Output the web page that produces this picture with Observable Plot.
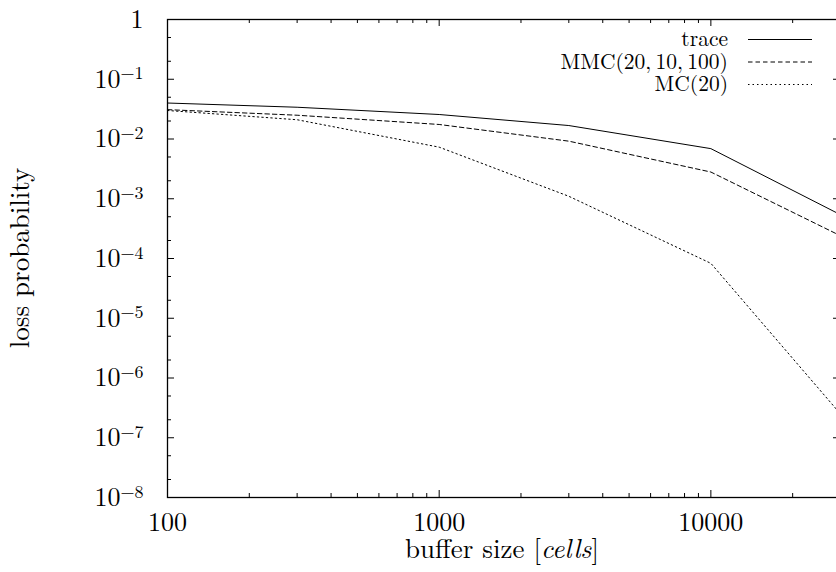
<!DOCTYPE html>
<html><head><meta charset="utf-8">
<script src="https://cdn.jsdelivr.net/npm/d3@7"></script>
<script src="https://cdn.jsdelivr.net/npm/@observablehq/plot@0.6"></script>
<style>
html,body{margin:0;padding:0;background:#fff;overflow:hidden;width:836px;height:572px}
#chart{position:relative;width:836px;height:572px;overflow:hidden}
#chart svg{display:block;max-width:none !important;width:844px !important;height:572px !important}
#chart svg text, #chart svg tspan{font-family:"Latin Modern Roman","Liberation Serif",serif !important}
</style></head><body><div id="chart"></div>
<script>
// ---- data ----
const bufferSizes = [100, 300, 1000, 3000, 10000, 30000];
const traceLoss   = [0.040, 0.034, 0.0257, 0.0168, 0.0069, 5.4e-4];
const mmcLoss     = [0.031, 0.025, 0.0175, 0.0092, 0.0028, 2.4e-4];
const mcLoss      = [0.030, 0.021, 0.0073, 0.0011, 8.3e-5, 2.5e-7];
const seriesNames = ["trace", "MMC(20,\u200910,\u2009100)", "MC(20)"];
const seriesDash  = [null, "4.5,3", "1.5,3"];
const xMajorTicks = [100, 1000, 10000];
const xMinorTicks = [200,300,400,500,600,700,800,900,2000,3000,4000,5000,6000,7000,8000,9000,20000];
const yMajorTicks = [1, 1e-1, 1e-2, 1e-3, 1e-4, 1e-5, 1e-6, 1e-7, 1e-8];
const yMinorTicks = [0.5,0.2,0.05,0.02,5e-3,2e-3,5e-4,2e-4,5e-5,2e-5,5e-6,2e-6,5e-7,2e-7,5e-8,2e-8];
const xLabel = ["buffer size [", "cells", "]"];
const yLabel = "loss probability";

// ---- build table ----
const seriesValues = [traceLoss, mmcLoss, mcLoss];
const rows = [];
seriesNames.forEach((name, i) => bufferSizes.forEach((b, j) => rows.push({series: name, x: b, y: seriesValues[i][j]})));

const W = 844, H = 572, ML = 167, MR = 4, MT = 19, MB = 75;
const PW = W - ML - MR, PH = H - MT - MB;
const font = "Latin Modern Roman, Liberation Serif, serif";

const marks = [
  Plot.tickY(yMajorTicks, {y: d => d, insetRight: PW - 7, stroke: "black"}),
  Plot.tickY(yMajorTicks, {y: d => d, insetLeft: PW - 7, stroke: "black"}),
  Plot.tickY(yMinorTicks, {y: d => d, insetRight: PW - 4, stroke: "black"}),
  Plot.tickY(yMinorTicks, {y: d => d, insetLeft: PW - 4, stroke: "black"}),
  Plot.tickX(xMajorTicks, {x: d => d, insetTop: PH - 7, stroke: "black"}),
  Plot.tickX(xMajorTicks, {x: d => d, insetBottom: PH - 7, stroke: "black"}),
  Plot.tickX(xMinorTicks, {x: d => d, insetTop: PH - 4, stroke: "black"}),
  Plot.tickX(xMinorTicks, {x: d => d, insetBottom: PH - 4, stroke: "black"}),
  Plot.axisX({ticks: xMajorTicks, tickSize: 0, tickPadding: 15, tickFormat: d => String(d), fontSize: 26, label: null}),
  Plot.axisY({ticks: yMajorTicks, tickSize: 0, tickPadding: 24,
    tickFormat: d => d === 1 ? "1" : "10^" + Math.round(Math.log10(d)), fontSize: 26, label: null}),
];
seriesNames.forEach((name, i) => {
  marks.push(Plot.line(rows.filter(r => r.series === name), {x: "x", y: "y", stroke: "black", strokeWidth: 1, strokeDasharray: seriesDash[i]}));
});
marks.push(Plot.frame({stroke: "black", strokeWidth: 1.3}));

const chart = Plot.plot({
  width: W, height: H,
  marginLeft: ML, marginRight: MR, marginTop: MT, marginBottom: MB,
  style: {fontFamily: font, fontSize: "26px", color: "black", background: "white"},
  x: {type: "log", domain: [100, 30000]},
  y: {type: "log", domain: [1e-8, 1]},
  marks
});
document.getElementById("chart").appendChild(chart);

const svg = d3.select(chart);
svg.selectAll('g[aria-label="y-axis tick label"] text').each(function() {
  const t = this.textContent;
  if (!t.startsWith("10^")) return;
  const exp = t.slice(3).replace("-", "\u2212");
  const sel = d3.select(this);
  sel.text(null);
  sel.append("tspan").text("10");
  sel.append("tspan").attr("dy", "-0.45em").attr("font-size", "18px").text(exp);
});

const xt = svg.append("text").attr("x", 502).attr("y", 558).attr("text-anchor", "middle")
  .attr("font-size", 27).attr("fill", "black");
xt.append("tspan").text(xLabel[0]);
xt.append("tspan").attr("font-style", "italic").text(xLabel[1]);
xt.append("tspan").text(xLabel[2]);
svg.append("text").attr("transform", "translate(29,258) rotate(-90)").attr("text-anchor", "middle")
  .attr("font-size", 27).attr("fill", "black").text(yLabel);

const lg = svg.append("g");
seriesNames.forEach((name, i) => {
  const cy = 39.5 + i * 22.5;
  lg.append("text").attr("x", 728).attr("y", cy).attr("dy", "0.32em").attr("text-anchor", "end")
    .attr("font-size", 21.5).attr("fill", "black").text(name);
  lg.append("line").attr("x1", 748).attr("x2", 812).attr("y1", cy).attr("y2", cy)
    .attr("stroke", "black").attr("stroke-width", 1).attr("stroke-dasharray", seriesDash[i]);
});
</script></body></html>
